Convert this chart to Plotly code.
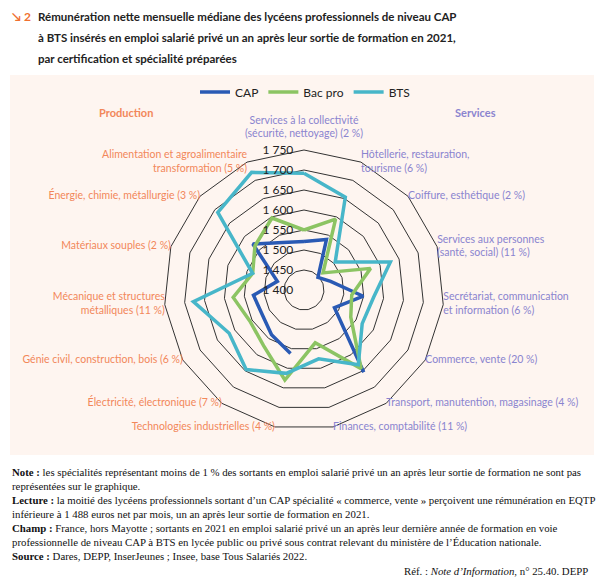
import plotly.graph_objects as go

categories = [
    "Services à la collectivité", "Hôtellerie, restauration, tourisme", "Coiffure, esthétique",
    "Services aux personnes", "Secrétariat, communication et information", "Commerce, vente",
    "Transport, manutention, magasinage", "Finances, comptabilité", "Technologies industrielles",
    "Électricité, électronique", "Génie civil, construction, bois",
    "Mécanique et structures métalliques", "Matériaux souples",
    "Énergie, chimie, métallurgie", "Alimentation et agroalimentaire transformation",
]
labels = [
    "Services à la collectivité<br>(sécurité, nettoyage) (2 %)",
    "Hôtellerie, restauration,<br>tourisme (6 %)",
    "Coiffure, esthétique (2 %)",
    "Services aux personnes<br>(santé, social) (11 %)",
    "Secrétariat, communication<br>et information (6 %)",
    "Commerce, vente (20 %)",
    "Transport, manutention, magasinage (4 %)",
    "Finances, comptabilité (11 %)",
    "Technologies industrielles (4 %)",
    "Électricité, électronique (7 %)",
    "Génie civil, construction, bois (6 %)",
    "Mécanique et structures<br>métalliques (11 %)",
    "Matériaux souples (2 %)",
    "Énergie, chimie, métallurgie (3 %)",
    "Alimentation et agroalimentaire<br>transformation (5 %)",
]
groups = ["Services"] * 8 + ["Production"] * 7

cap = [1521, 1538, 1447, 1470, 1549, 1488, 1654, None, 1562, 1538, 1521, 1527, 1470, 1572, 1530]
bacpro = [1550, 1594, 1464, 1575, 1520, 1535, 1643, 1535, 1630, 1572, 1556, 1578, 1535, 1565, 1597]
bts = [1692, 1654, 1505, 1627, 1575, 1568, 1631, 1576, 1613, 1646, 1616, 1678, 1535, 1690, 1722]

radial_ticks = [1400, 1450, 1500, 1550, 1600, 1650, 1700, 1750]
radial_ticktext = ["1 400", "1 450", "1 500", "1 550", "1 600", "1 650", "1 700", "1 750"]

COL_SERV = "#8a84cf"
COL_PROD = "#f2875a"
group_colors = {"Services": COL_SERV, "Production": COL_PROD}

# page body has an 8px margin: shift the figure so content lands at target pixels
OX, OY = 8, 8
W, H = 604, 569


def px(x):
    return (x - OX) / W


def py(y):
    return 1 - (y - OY) / H


fig = go.Figure()
series = [("CAP", cap, "#2a5ab4"), ("Bac pro", bacpro, "#8cc463"), ("BTS", bts, "#47b6c9")]
for name, vals, col in series:
    fig.add_trace(go.Scatterpolar(
        r=vals + [vals[0]], theta=categories + [categories[0]], name=name, mode="lines",
        line=dict(color=col, width=3.5), connectgaps=False, hoverinfo="skip",
    ))

rmin, rmax = radial_ticks[0], radial_ticks[-1]
rlab = rmax + 25  # extra room (outside the last ring) used for the top label
n = len(categories)
label_pos = ["top center"] + ["middle right"] * 7 + ["middle left"] * 7
label_r = [rlab] + [rmax] * (n - 1)
fig.add_trace(go.Scatterpolar(
    r=label_r, theta=categories, mode="text", text=labels, textposition=label_pos,
    textfont=dict(family="Lato", size=10.5, color=[group_colors[g] for g in groups]),
    showlegend=False, hoverinfo="skip", cliponaxis=False,
))

# background panel
fig.add_shape(type="rect", xref="paper", yref="paper", x0=px(10), x1=px(594),
              y0=py(455), y1=py(75), fillcolor="#fef5f0", line=dict(width=0), layer="below")

cx, cy = 304, 290
R = 140 * (rlab - rmin) / (rmax - rmin)
fig.update_layout(
    width=W, height=H, autosize=False,
    margin=dict(l=0, r=0, t=0, b=0),
    paper_bgcolor="white",
    font=dict(family="Lato", size=11, color="#222"),
    showlegend=True,
    legend=dict(orientation="h", x=px(305), xanchor="center", y=py(92), yanchor="middle",
                bgcolor="rgba(0,0,0,0)", font=dict(size=12, color="#222")),
    polar=dict(
        domain=dict(x=[px(cx - R), px(cx + R)], y=[py(cy + R), py(cy - R)]),
        bgcolor="rgba(0,0,0,0)",
        gridshape="linear",
        radialaxis=dict(range=[rmin, rlab], tickvals=radial_ticks, ticktext=radial_ticktext,
                        angle=90, tickangle=90, showline=False, side="counterclockwise",
                        ticks="outside", ticklen=6, tickcolor="rgba(0,0,0,0)",
                        gridcolor="#333", gridwidth=1, tickfont=dict(size=12, color="#222")),
        angularaxis=dict(direction="clockwise", rotation=90, showticklabels=False,
                         showgrid=False, showline=False, ticks=""),
    ),
)

ann = []
ann.append(dict(text="<b>↘ 2</b>", x=px(10), y=py(17), xanchor="left", yanchor="middle",
                font=dict(size=12, color="#f07030", family="Lato")))
title_lines = [
    "Rémunération nette mensuelle médiane des lycéens professionnels de niveau CAP",
    "à BTS insérés en emploi salarié privé un an après leur sortie de formation en 2021,",
    "par certification et spécialité préparées",
]
for i, t in enumerate(title_lines):
    ann.append(dict(text=f"<b>{t}</b>", x=px(36), y=py(17 + 20.5 * i), xanchor="left", yanchor="middle",
                    font=dict(size=11.5, color="#222", family="Lato")))
ann.append(dict(text="<b>Production</b>", x=px(126), y=py(112), xanchor="center", yanchor="middle",
                font=dict(size=11, color=COL_PROD)))
ann.append(dict(text="<b>Services</b>", x=px(475), y=py(112), xanchor="center", yanchor="middle",
                font=dict(size=11, color=COL_SERV)))
foot = ("<b>Note :</b> les spécialités représentant moins de 1 % des sortants en emploi salarié privé un an après leur sortie de formation ne sont pas<br>"
        "représentées sur le graphique.<br>"
        "<b>Lecture :</b> la moitié des lycéens professionnels sortant d’un CAP spécialité « commerce, vente » perçoivent une rémunération en EQTP<br>"
        "inférieure à 1 488 euros net par mois, un an après leur sortie de formation en 2021.<br>"
        "<b>Champ :</b> France, hors Mayotte ; sortants en 2021 en emploi salarié privé un an après leur dernière année de formation en voie<br>"
        "professionnelle de niveau CAP à BTS en lycée public ou privé sous contrat relevant du ministère de l’Éducation nationale.<br>"
        "<b>Source :</b> Dares, DEPP, InserJeunes ; Insee, base Tous Salariés 2022.")
ann.append(dict(text=foot, x=px(10), y=py(464), xanchor="left", yanchor="top", align="left",
                font=dict(size=10.8, color="#111", family="Liberation Serif")))
ann.append(dict(text="Réf. : <i>Note d’Information</i>, n° 25.40. DEPP", x=px(590), y=py(571),
                xanchor="right", yanchor="middle",
                font=dict(size=10.8, color="#111", family="Liberation Serif")))
for a in ann:
    a.update(xref="paper", yref="paper", showarrow=False)
fig.update_layout(annotations=ann)

fig.write_html("out.html")
